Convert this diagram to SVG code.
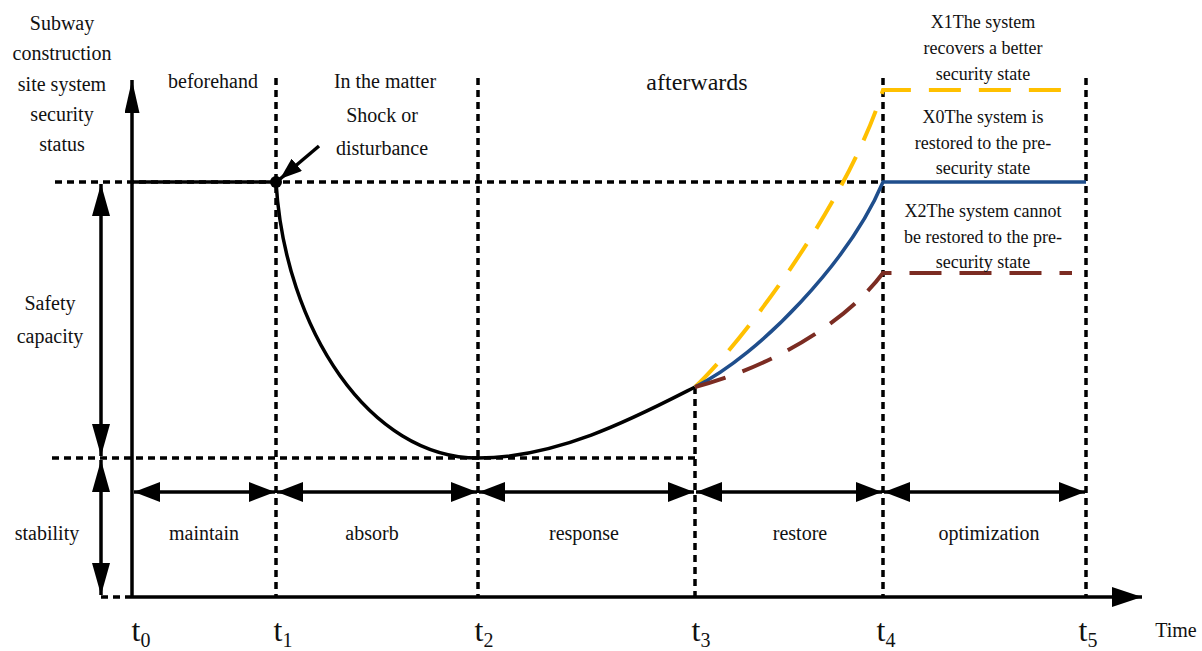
<svg xmlns="http://www.w3.org/2000/svg" width="1202" height="651" viewBox="0 0 1202 651">
<style>
text{font-family:"Liberation Serif","Times New Roman",serif;fill:#111;text-anchor:middle}
.lbl{font-size:20px}
.sm{font-size:18px}
.big{font-size:24px}
.tl{font-size:32px}
.sub{font-size:20px}
.dash{stroke:#000;stroke-width:3.5;stroke-dasharray:7 5;fill:none}
.solid{stroke:#000;stroke-width:3.5;fill:none}
.org{stroke:#FFC000;stroke-width:4;stroke-dasharray:32 18;fill:none}
.brn{stroke:#7B2C22;stroke-width:4;stroke-dasharray:32 18;fill:none}
.blu{stroke:#1F4E8C;stroke-width:3.5;fill:none}
.arr{stroke:#000;stroke-width:3.5}
</style>
<defs>
<marker id="ah" viewBox="0 0 26 20" refX="26" refY="10" markerWidth="26" markerHeight="20" markerUnits="userSpaceOnUse" orient="auto-start-reverse">
<path d="M0,0 L26,10 L0,20 z" fill="#000"/>
</marker>
<marker id="av" viewBox="0 0 32 18" refX="32" refY="9" markerWidth="32" markerHeight="18" markerUnits="userSpaceOnUse" orient="auto-start-reverse">
<path d="M0,0 L32,9 L0,18 z" fill="#000"/>
</marker>
<marker id="ay" viewBox="0 0 33 15" refX="33" refY="7.5" markerWidth="33" markerHeight="15" markerUnits="userSpaceOnUse" orient="auto">
<path d="M0,0 L33,7.5 L0,15 z" fill="#000"/>
</marker>
<marker id="ax" viewBox="0 0 30 20" refX="30" refY="10" markerWidth="30" markerHeight="20" markerUnits="userSpaceOnUse" orient="auto">
<path d="M0,0 L30,10 L0,20 z" fill="#000"/>
</marker>
<marker id="sh" viewBox="0 0 22 16" refX="22" refY="8" markerWidth="22" markerHeight="16" markerUnits="userSpaceOnUse" orient="auto">
<path d="M0,0 L22,8 L0,16 z" fill="#000"/>
</marker>
</defs>
<g id="grid">
<line class="dash" x1="55" y1="182" x2="883" y2="182"/>
<line class="dash" x1="52" y1="458" x2="695" y2="458"/>
<line class="dash" x1="276" y1="78" x2="276" y2="597"/>
<line class="dash" x1="478" y1="78" x2="478" y2="597"/>
<line class="dash" x1="695" y1="387" x2="695" y2="597"/>
<line class="dash" x1="883" y1="78" x2="883" y2="597"/>
<line class="dash" x1="1086" y1="78" x2="1086" y2="597"/>
<line class="dash" x1="101" y1="597" x2="130" y2="597"/>
</g>
<g id="axes">
<line class="solid" x1="132" y1="597" x2="132" y2="80" marker-end="url(#ay)"/>
<line class="solid" x1="130" y1="597" x2="1142" y2="597" marker-end="url(#ax)"/>
</g>
<g id="connectors">
<line class="arr" x1="101" y1="184" x2="101" y2="456" marker-start="url(#av)" marker-end="url(#av)"/>
<line class="arr" x1="101" y1="460" x2="101" y2="595" marker-start="url(#av)" marker-end="url(#av)"/>
<line class="arr" x1="134" y1="492" x2="275" y2="492" marker-start="url(#ah)" marker-end="url(#ah)"/>
<line class="arr" x1="277" y1="492" x2="477" y2="492" marker-start="url(#ah)" marker-end="url(#ah)"/>
<line class="arr" x1="479" y1="492" x2="694" y2="492" marker-start="url(#ah)" marker-end="url(#ah)"/>
<line class="arr" x1="696" y1="492" x2="882" y2="492" marker-start="url(#ah)" marker-end="url(#ah)"/>
<line class="arr" x1="884" y1="492" x2="1085" y2="492" marker-start="url(#ah)" marker-end="url(#ah)"/>
<line class="arr" x1="319" y1="146" x2="280" y2="179" marker-end="url(#sh)"/>
</g>
<g id="curves">
<line class="solid" x1="132" y1="182" x2="276" y2="182"/>
<circle cx="276" cy="182" r="6" fill="#000"/>
<path class="solid" d="M276,182 C285,330 370,458 478,458 C560,458 640,415 695,387"/>
<path class="org" d="M695,387 C735,350 845,210 883,90 L1072,90"/>
<path class="blu" d="M695,387 C760,355 850,260 883,182 L1086,182"/>
<path class="brn" d="M695,387 C760,370 840,330 883,273 L1072,273"/>
</g>
<g id="labels">
<text class="lbl" x="62" y="30">Subway</text>
<text class="lbl" x="62" y="60">construction</text>
<text class="lbl" x="62" y="91">site system</text>
<text class="lbl" x="62" y="121">security</text>
<text class="lbl" x="62" y="151">status</text>
<text class="lbl" x="213" y="88">beforehand</text>
<text class="lbl" x="385" y="88">In the matter</text>
<text class="lbl" x="382" y="122">Shock or</text>
<text class="lbl" x="382" y="155">disturbance</text>
<text class="big" x="697" y="90">afterwards</text>
<text class="sm" x="983" y="28">X1The system</text>
<text class="sm" x="983" y="54">recovers a better</text>
<text class="sm" x="983" y="80">security state</text>
<text class="sm" x="983" y="123">X0The system is</text>
<text class="sm" x="983" y="149">restored to the pre-</text>
<text class="sm" x="983" y="174">security state</text>
<text class="sm" x="983" y="217">X2The system cannot</text>
<text class="sm" x="983" y="243">be restored to the pre-</text>
<text class="sm" x="983" y="268">security state</text>
<text class="lbl" x="50" y="310">Safety</text>
<text class="lbl" x="50" y="343">capacity</text>
<text class="lbl" x="47" y="540">stability</text>
<text class="lbl" x="204" y="540">maintain</text>
<text class="lbl" x="372" y="540">absorb</text>
<text class="lbl" x="584" y="540">response</text>
<text class="lbl" x="800" y="540">restore</text>
<text class="lbl" x="989" y="540">optimization</text>
<text class="tl" x="141" y="641">t<tspan class="sub" dy="6">0</tspan></text>
<text class="tl" x="283" y="641">t<tspan class="sub" dy="6">1</tspan></text>
<text class="tl" x="484" y="641">t<tspan class="sub" dy="6">2</tspan></text>
<text class="tl" x="701" y="641">t<tspan class="sub" dy="6">3</tspan></text>
<text class="tl" x="886" y="641">t<tspan class="sub" dy="6">4</tspan></text>
<text class="tl" x="1088" y="641">t<tspan class="sub" dy="6">5</tspan></text>
<text class="lbl" x="1176" y="637">Time</text>
</g>
</svg>
